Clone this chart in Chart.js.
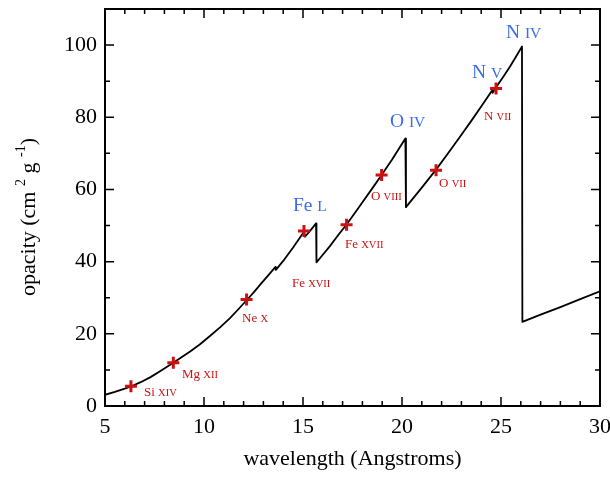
<!DOCTYPE html>
<html>
<head>
<meta charset="utf-8">
<script src="https://cdn.jsdelivr.net/npm/chart.js@4"></script>
<style>
  html, body { margin: 0; padding: 0; background: #fff; }
  #wrap { width: 610px; height: 481px; }
</style>
</head>
<body>
<div id="wrap"><canvas id="opacidad" width="610" height="481"></canvas></div>
<script>
// Curva de opacidad
const wavelength = [5, 5.5, 6.0, 6.31, 6.8, 7.3, 7.8, 8.45, 8.79, 9.3, 9.8, 10.3, 10.81, 11.3, 11.7, 12.15,
  12.5, 12.85, 13.2, 13.6, 13.63, 14.0, 14.5, 15.05, 15.1, 15.4, 15.66,
  15.68, 16.0, 16.36, 16.8, 17.2, 17.7, 18.1, 18.5, 18.97, 19.5, 20.17,
  20.2, 20.6, 21.0, 21.72, 22.3, 22.93, 23.5, 24.0, 24.55, 24.58, 24.75, 25.1, 25.45, 25.8, 26.06,
  26.08, 27.0, 28.0, 29.0, 30];
const opacity = [3.1, 3.9, 4.8, 5.4, 6.6, 8.0, 9.7, 12.0, 13.2, 15.1, 17.1, 19.4, 21.8, 24.3, 26.6, 29.3,
  31.4, 33.7, 35.9, 38.5, 37.7, 40.2, 43.9, 48.3, 46.9, 48.8, 50.6,
  39.8, 41.9, 44.3, 47.5, 50.3, 54.1, 57.2, 60.3, 64.0, 68.3, 74.1,
  55.1, 57.8, 60.5, 65.5, 69.8, 74.6, 79.0, 83.0, 87.4, 86.8, 88.3, 91.1, 94.0, 97.2, 99.6,
  23.3, 25.3, 27.4, 29.6, 31.8];

// Lineas marcadas con cruces
const lineX = [6.31, 8.45, 12.15, 15.05, 17.2, 18.97, 21.72, 24.75];
const lineY = [5.5, 12.0, 29.5, 48.5, 50.2, 64.0, 65.3, 88.0];
const lineElem = ['Si', 'Mg', 'Ne', 'Fe', 'Fe', 'O', 'O', 'N'];
const lineIon = ['XIV', 'XII', 'X', 'XVII', 'XVII', 'VIII', 'VII', 'VII'];
const lineLabelX = [6.97, 8.89, 11.92, 14.44, 17.12, 18.43, 21.87, 24.14];
const lineLabelY = [3.86, 8.83, 24.55, 34.2, 44.97, 58.2, 61.8, 80.55];

// Bordes de absorcion
const edgeElem = ['Fe', 'O', 'N', 'N'];
const edgeIon = ['L', 'IV', 'V', 'IV'];
const edgeLabelX = [14.49, 19.39, 23.54, 25.25];
const edgeLabelY = [55.7, 79.2, 92.7, 103.7];

// Marcas de los ejes
const xTicks = [5, 10, 15, 20, 25, 30];
const xMinor = [6, 7, 8, 9, 11, 12, 13, 14, 16, 17, 18, 19, 21, 22, 23, 24, 26, 27, 28, 29];
const yTicks = [0, 20, 40, 60, 80, 100];
const yMinor = [10, 30, 50, 70, 90, 110];

const SERIF = '"Liberation Serif", "Times New Roman", serif';
const ROJO = '#cc1111';
const AZUL = '#3a6cf0';

// Dibuja texto "Elemento ION" con el ion en versalitas
function textoIon(ctx, elem, ion, x, y, big, small, color) {
  ctx.fillStyle = color;
  ctx.textAlign = 'left';
  ctx.textBaseline = 'alphabetic';
  const base = y + big * 0.33;
  ctx.font = big + 'px ' + SERIF;
  ctx.fillText(elem + ' ', x, base);
  const w = ctx.measureText(elem + ' ').width;
  ctx.font = small + 'px ' + SERIF;
  ctx.fillText(ion, x + w, base);
}

const anotaciones = {
  id: 'anotaciones',
  afterDatasetsDraw(chart) {
    const { ctx, scales: { x, y } } = chart;
    ctx.save();
    lineElem.forEach((el, i) => {
      textoIon(ctx, el, lineIon[i], x.getPixelForValue(lineLabelX[i]), y.getPixelForValue(lineLabelY[i]), 13, 10.5, ROJO);
    });
    edgeElem.forEach((el, i) => {
      textoIon(ctx, el, edgeIon[i], x.getPixelForValue(edgeLabelX[i]), y.getPixelForValue(edgeLabelY[i]), 19.5, 15.5, AZUL);
    });
    ctx.restore();
  }
};

const marcoEjes = {
  id: 'marcoEjes',
  afterDraw(chart) {
    const { ctx, chartArea: a, scales: { x, y } } = chart;
    ctx.save();
    ctx.strokeStyle = '#000';
    ctx.lineWidth = 2;
    ctx.strokeRect(a.left, a.top, a.right - a.left, a.bottom - a.top);

    // marcas hacia adentro en los cuatro lados
    ctx.lineWidth = 1.5;
    ctx.beginPath();
    const marcasX = (vals, len) => vals.forEach(v => {
      const px = x.getPixelForValue(v);
      ctx.moveTo(px, a.bottom); ctx.lineTo(px, a.bottom - len);
      ctx.moveTo(px, a.top); ctx.lineTo(px, a.top + len);
    });
    const marcasY = (vals, len) => vals.forEach(v => {
      const py = y.getPixelForValue(v);
      ctx.moveTo(a.left, py); ctx.lineTo(a.left + len, py);
      ctx.moveTo(a.right, py); ctx.lineTo(a.right - len, py);
    });
    marcasX(xTicks, 9);
    marcasX(xMinor, 5);
    marcasY(yTicks, 9);
    marcasY(yMinor, 5);
    ctx.stroke();

    // titulo del eje y con superindices
    const partes = [['opacity (cm ', false], ['2', true], [' g ', false], ['-1', true], [')', false]];
    const medir = (t, sup) => { ctx.font = (sup ? 14 : 22) + 'px ' + SERIF; return ctx.measureText(t).width; };
    const total = partes.reduce((s, p) => s + medir(p[0], p[1]), 0);
    ctx.translate(35, 217);
    ctx.rotate(-Math.PI / 2);
    ctx.fillStyle = '#000';
    ctx.textBaseline = 'alphabetic';
    ctx.textAlign = 'left';
    let pos = -total / 2;
    partes.forEach(([t, sup]) => {
      const w = medir(t, sup);
      ctx.fillText(t, pos, sup ? -10 : 0);
      pos += w;
    });
    ctx.restore();
  }
};

const ctxOpacidad = document.getElementById('opacidad').getContext('2d');
new Chart(ctxOpacidad, {
  type: 'scatter',
  data: {
    datasets: [
      {
        label: 'lineas',
        data: lineX.map((v, i) => ({ x: v, y: lineY[i] })),
        pointStyle: 'cross',
        pointRadius: 6,
        pointBorderWidth: 3,
        borderColor: ROJO,
        backgroundColor: ROJO,
        order: 0
      },
      {
        label: 'opacidad',
        data: wavelength.map((v, i) => ({ x: v, y: opacity[i] })),
        showLine: true,
        borderColor: '#000',
        borderWidth: 1.8,
        borderJoinStyle: 'round',
        pointRadius: 0,
        tension: 0,
        order: 1
      }
    ]
  },
  options: {
    responsive: false,
    animation: false,
    layout: { padding: { left: 0, right: 10, top: 7, bottom: 0 } },
    plugins: {
      legend: { display: false },
      tooltip: { enabled: false }
    },
    scales: {
      x: {
        type: 'linear',
        min: 5,
        max: 30,
        afterBuildTicks: s => { s.ticks = xTicks.map(v => ({ value: v })); },
        afterFit: s => { s.height = 75; s.paddingLeft = 0; s.paddingRight = 0; },
        grid: { display: false, drawTicks: false },
        border: { display: false },
        ticks: { color: '#000', font: { family: SERIF, size: 22 }, padding: 8, maxRotation: 0, autoSkip: false },
        title: {
          display: true,
          text: 'wavelength (Angstroms)',
          color: '#000',
          font: { family: SERIF, size: 22 },
          padding: { top: 0, bottom: 9 }
        }
      },
      y: {
        min: 0,
        max: 110,
        afterBuildTicks: s => { s.ticks = yTicks.map(v => ({ value: v })); },
        afterFit: s => { s.width = 105; s.paddingTop = 0; s.paddingBottom = 0; },
        grid: { display: false, drawTicks: false },
        border: { display: false },
        ticks: { color: '#000', font: { family: SERIF, size: 22 }, padding: 8 }
      }
    }
  },
  plugins: [anotaciones, marcoEjes]
});
</script>
</body>
</html>
